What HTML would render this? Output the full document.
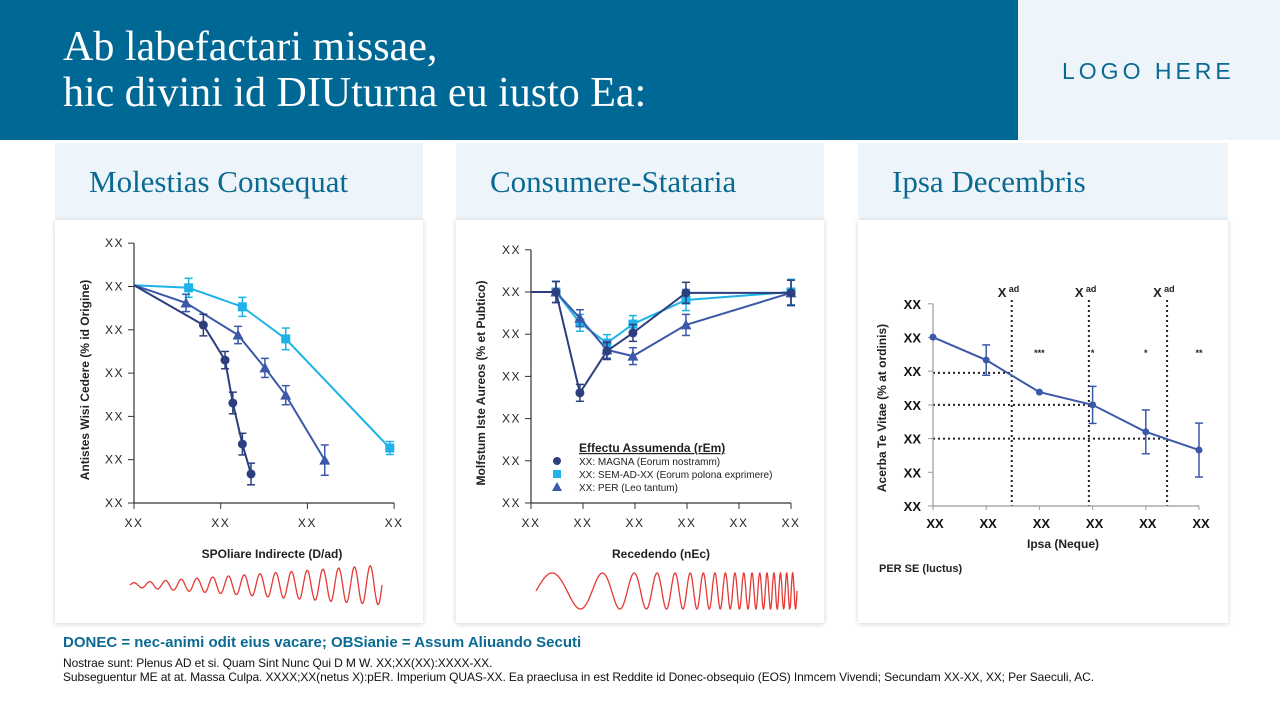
<!DOCTYPE html>
<html><head><meta charset="utf-8"><style>
body{margin:0;width:1280px;height:720px;position:relative;overflow:hidden;background:#fff;font-family:"Liberation Sans",sans-serif}
.abs{position:absolute}
#hdr{left:0;top:0;width:1018px;height:140px;background:#006894}
#hdr h1{margin:0;position:absolute;left:63px;top:24px;font:400 42px/46px "Liberation Serif",serif;color:#fff}
#logo{left:1018px;top:0;width:262px;height:140px;background:#eef5fa}
#logo span{position:absolute;left:44px;top:58px;font-size:23px;letter-spacing:4px;color:#0a6a92}
.ttl{background:#eef5fa;height:77px;top:143px}
.ttl span{position:absolute;left:34px;top:21px;font:400 31px "Liberation Serif",serif;color:#0a6a92}
.box{background:#fff;top:220px;height:403px;box-shadow:0 1px 5px rgba(0,0,0,.18)}
svg{position:absolute;left:0;top:0}
</style></head><body>
<div id="hdr" class="abs"><h1>Ab labefactari missae,<br>hic divini id DIUturna eu iusto Ea:</h1></div>
<div id="logo" class="abs"><span>LOGO HERE</span></div>
<div class="abs ttl" style="left:55px;width:368px"><span>Molestias Consequat</span></div>
<div class="abs ttl" style="left:456px;width:368px"><span>Consumere-Stataria</span></div>
<div class="abs ttl" style="left:858px;width:370px"><span>Ipsa Decembris</span></div>
<div class="abs box" style="left:55px;width:368px"></div>
<div class="abs box" style="left:456px;width:368px"></div>
<div class="abs box" style="left:858px;width:370px"></div>
<div class="abs" style="left:63px;top:634px;font-size:15px;font-weight:bold;color:#0a6a92">DONEC = nec-animi odit eius vacare; OBSianie = Assum Aliuando Secuti</div>
<div class="abs" style="left:63px;top:656px;font-size:12px;line-height:14px;color:#111;letter-spacing:-0.1px">Nostrae sunt: Plenus AD et si. Quam Sint Nunc Qui D M W. XX;XX(XX):XXXX-XX.<br>Subseguentur ME at at. Massa Culpa. XXXX;XX(netus X):pER. Imperium QUAS-XX. Ea praeclusa in est Reddite id Donec-obsequio (EOS) Inmcem Vivendi; Secundam XX-XX, XX; Per Saeculi, AC.</div>
<svg id="sv" width="1280" height="720"></svg>
<script>
// Chart 1 data
const c1Ticks=["XX","XX","XX","XX","XX","XX","XX"];
const c1XTicks=["XX","XX","XX","XX"];
const c1CircX=[0,0.80,1.05,1.14,1.25,1.35];
const c1CircY=[5.03,4.11,3.30,2.31,1.36,0.67];
const c1CircE=[0,0.25,0.2,0.25,0.25,0.25];
const c1SqX=[0,0.63,1.25,1.75,2.95];
const c1SqY=[5.03,4.97,4.53,3.79,1.27];
const c1SqE=[0,0.22,0.22,0.25,0.15];
const c1TriX=[0,0.60,1.20,1.51,1.75,2.20];
const c1TriY=[5.03,4.62,3.88,3.12,2.49,0.99];
const c1TriE=[0,0.2,0.2,0.22,0.22,0.35];
// Chart 2 data
const c2Ticks=["XX","XX","XX","XX","XX","XX","XX"];
const c2XTicks=["XX","XX","XX","XX","XX","XX"];
const c2X=[0,0.48,0.94,1.46,1.96,2.98,5];
const c2CircY=[5,5,2.61,3.6,4.03,4.98,4.98];
const c2SqY=[5,5,4.27,3.79,4.24,4.81,5];
const c2TriY=[5,5,4.38,3.63,3.48,4.22,4.98];
const c2E=[0,0.25,0.2,0.2,0.2,0.25,0.3];
const c2Legend=["XX: MAGNA (Eorum nostramm)","XX: SEM-AD-XX (Eorum polona exprimere)","XX: PER (Leo tantum)"];
// Chart 3 data
const c3Ticks=["XX","XX","XX","XX","XX","XX","XX"];
const c3XTicks=["XX","XX","XX","XX","XX","XX"];
const c3Y=[5.01,4.33,3.38,3.0,2.20,1.66];
const c3E=[0,0.45,0,0.55,0.65,0.8];
const c3Stars=["","","***","*","*","**"];
const c3VLines=[1.48,2.93,4.4];
const c3HLines=[3.95,3.0,2.0];

const NS="http://www.w3.org/2000/svg";const sv=document.getElementById('sv');
function mk(t,a,name,txt){const e=document.createElementNS(NS,t);for(const k in a)e.setAttribute(k,a[k]);


if(txt!==undefined)e.textContent=txt;sv.appendChild(e);return e;}
function line(x1,y1,x2,y2,s,w,name,d){const a={x1,y1,x2,y2,stroke:s,'stroke-width':w};if(d)a['stroke-dasharray']=d;return mk('line',a,name);}
function axes(X,Y,yt,xt,xmax,font,weight,name,ygap){
 line(X(0),Y(0),X(0),Y(6),'#333',1.2,name+'-y-axis');line(X(0),Y(0),X(xmax),Y(0),'#333',1.2,name+'-x-axis');
 yt.forEach((t,i)=>{line(X(0)-6,Y(i),X(0),Y(i),'#333',1,name+'-y-tick');mk('text',{x:X(0)-ygap,y:Y(i)+4,'text-anchor':'end','font-size':font,'font-weight':weight,'letter-spacing':1.5,fill:'#222'},name+'-y-tick-label',t);});
 xt.forEach((t,i)=>{const v=xmax*i/(xt.length-1);line(X(v),Y(0),X(v),Y(0)+6,'#333',1,name+'-x-tick');mk('text',{x:X(v),y:Y(0)+24,'text-anchor':'middle','font-size':font,'font-weight':weight,'letter-spacing':1.5,fill:'#222'},name+'-x-tick-label',t);});
}
function series(X,Y,xs,ys,es,col,shape,name,sz){
 mk('polyline',{points:xs.map((x,i)=>X(x)+','+Y(ys[i])).join(' '),fill:'none',stroke:col,'stroke-width':2},name+'-line');
 xs.forEach((x,i)=>{const cx=X(x),cy=Y(ys[i]);if(es[i]>0){const t=Y(ys[i]+es[i]),b=Y(ys[i]-es[i]);line(cx,t,cx,b,col,1.5,name+'-error-bar');line(cx-4,t,cx+4,t,col,1.5,name+'-error-cap');line(cx-4,b,cx+4,b,col,1.5,name+'-error-cap');}
 if(i==0&&shape!=='dot3')return;marker(cx,cy,col,shape,name,sz);});
}
function marker(cx,cy,col,shape,name,s){
 if(shape==='circle'||shape==='dot3')mk('circle',{cx,cy,r:s,fill:col},name+'-point');
 else if(shape==='square')mk('rect',{x:cx-s,y:cy-s,width:2*s,height:2*s,fill:col},name+'-point');
 else mk('polygon',{points:`${cx},${cy-s-1} ${cx-s-1},${cy+s} ${cx+s+1},${cy+s}`,fill:col},name+'-point');
}
const NAVY='#2d3e7e',CYAN='#1db3e8',BLUE='#3b59a8';
// chart1
{const X=v=>134+v*86.7,Y=v=>503-v*43.3;
axes(X,Y,c1Ticks,c1XTicks,3,12,'normal','chart1',10);
series(X,Y,c1SqX,c1SqY,c1SqE,CYAN,'square','chart1-sem',4.5);
series(X,Y,c1TriX,c1TriY,c1TriE,BLUE,'triangle','chart1-per',4.5);
series(X,Y,c1CircX,c1CircY,c1CircE,NAVY,'circle','chart1-magna',4.5);
mk('text',{transform:'translate(89,380) rotate(-90)','text-anchor':'middle','font-size':12,'font-weight':'bold',fill:'#222'},'chart1-y-axis-title','Antistes Wisi Cedere (% id Origine)');
mk('text',{x:272,y:558,'text-anchor':'middle','font-size':12,'font-weight':'bold',fill:'#222'},'chart1-x-axis-title','SPOliare Indirecte (D/ad)');}
// chart2
{const X=v=>531+v*52,Y=v=>503-v*42.2;
axes(X,Y,c2Ticks,c2XTicks,5,12,'normal','chart2',10);
series(X,Y,c2X,c2SqY,c2E,CYAN,'square','chart2-sem',4.5);
series(X,Y,c2X,c2TriY,c2E,BLUE,'triangle','chart2-per',4.5);
series(X,Y,c2X,c2CircY,c2E,NAVY,'circle','chart2-magna',4.5);
mk('text',{x:579,y:452,'font-size':12,'font-weight':'bold','text-decoration':'underline',fill:'#222'},'chart2-legend-title','Effectu Assumenda (rEm)');
const cols=[NAVY,CYAN,BLUE],sh=['circle','square','triangle'];
c2Legend.forEach((t,i)=>{const y=461+i*13;marker(557,y,cols[i],sh[i],'chart2-legend-marker',4);mk('text',{x:579,y:y+4,'font-size':10,fill:'#222'},'chart2-legend-entry',t);});
mk('text',{transform:'translate(485,383) rotate(-90)','text-anchor':'middle','font-size':12,'font-weight':'bold',fill:'#222'},'chart2-y-axis-title','Molfstum Iste Aureos (% et Pubtico)');
mk('text',{x:661,y:558,'text-anchor':'middle','font-size':12,'font-weight':'bold',fill:'#222'},'chart2-x-axis-title','Recedendo (nEc)');}
// chart3
{const X=v=>933+v*53.2,Y=v=>506-v*33.7;
c3VLines.forEach(v=>{line(X(v),300,X(v),Y(0),'#222',2,'chart3-threshold-line','2 3');mk('text',{x:X(v)-14,y:297,'font-size':13,'font-weight':'bold',fill:'#222'},'chart3-threshold-label','X');mk('text',{x:X(v)-3,y:292,'font-size':9,'font-weight':'bold',fill:'#222'},'chart3-threshold-sup','ad');});
c3HLines.forEach((h,i)=>line(X(0),Y(h),X(c3VLines[i]),Y(h),'#222',2,'chart3-reference-line','2 3'));
line(X(0),Y(0),X(0),Y(6),'#999',1.2,'chart3-y-axis');line(X(0),Y(0),X(5),Y(0),'#999',1.2,'chart3-x-axis');
c3Ticks.forEach((t,i)=>{line(X(0)-5,Y(i),X(0),Y(i),'#999',1,'chart3-y-tick');mk('text',{x:X(0)-12,y:Y(i)+5,'text-anchor':'end','font-size':13,'font-weight':'bold',fill:'#111'},'chart3-y-tick-label',t);});
c3XTicks.forEach((t,i)=>{line(X(i),Y(0),X(i),Y(0)+4,'#999',1,'chart3-x-tick');mk('text',{x:X(i)+2,y:Y(0)+22,'text-anchor':'middle','font-size':13,'font-weight':'bold',fill:'#111'},'chart3-x-tick-label',t);});
c3Stars.forEach((s,i)=>{if(s)mk('text',{x:X(i),y:356,'text-anchor':'middle','font-size':9,'font-weight':'bold',fill:'#222'},'chart3-significance',s);});
series(X,Y,[0,1,2,3,4,5],c3Y,c3E,BLUE,'dot3','chart3-series',3.5);
mk('text',{transform:'translate(886,408) rotate(-90)','text-anchor':'middle','font-size':12,'font-weight':'bold',fill:'#222'},'chart3-y-axis-title','Acerba Te Vitae (% at ordinis)');
mk('text',{x:1063,y:548,'text-anchor':'middle','font-size':12,'font-weight':'bold',fill:'#222'},'chart3-x-axis-title','Ipsa (Neque)');
mk('text',{x:879,y:572,'font-size':11,'font-weight':'bold',fill:'#222'},'chart3-footnote','PER SE (luctus)');}
// decorative waveforms
{let p='';for(let i=0;i<=500;i++){const t=i/500;const x=130+t*252;const ph=2*Math.PI*16*t;const a=2+t*18;p+=(i?'L':'M')+x.toFixed(1)+','+(585-a*Math.sin(ph)).toFixed(1);}
mk('path',{d:p,fill:'none',stroke:'#e53935','stroke-width':1.3},'chart1-waveform');
let q='';for(let i=0;i<=1200;i++){const t=i/1200;const x=536+t*261;const ph=2*Math.PI*(4*t+14*t*t*t);q+=(i?'L':'M')+x.toFixed(1)+','+(591-18*Math.sin(ph)).toFixed(1);}
mk('path',{d:q,fill:'none',stroke:'#e53935','stroke-width':1.3},'chart2-waveform');}
</script>
</body></html>
